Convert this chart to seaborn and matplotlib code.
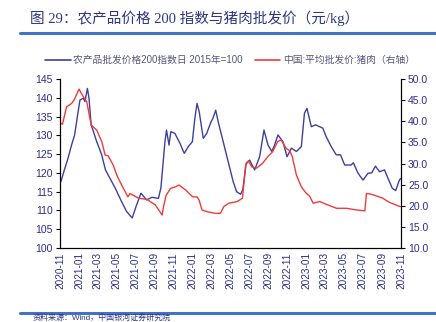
import matplotlib
matplotlib.use("Agg")
import matplotlib.pyplot as plt
import matplotlib.dates as mdates
from matplotlib.lines import Line2D
import pandas as pd
import seaborn as sns

# 农产品批发价格200指数（2015年=100）
index_dates = [
    "2020-11-04", "2020-11-15", "2020-11-25", "2020-12-08", "2020-12-18", "2020-12-25",
    "2021-01-04", "2021-01-15", "2021-01-20", "2021-01-28", "2021-02-02", "2021-02-09",
    "2021-02-27", "2021-03-15", "2021-03-27", "2021-04-05", "2021-04-27", "2021-05-18",
    "2021-06-03", "2021-06-21", "2021-07-03", "2021-07-19", "2021-08-06", "2021-08-23",
    "2021-09-13", "2021-09-21", "2021-10-04", "2021-10-09", "2021-10-17", "2021-10-23",
    "2021-11-05", "2021-11-21", "2021-12-05", "2021-12-18", "2021-12-31", "2022-01-08",
    "2022-01-15", "2022-01-22", "2022-02-04", "2022-02-15", "2022-03-01", "2022-03-07",
    "2022-03-16", "2022-03-24", "2022-04-09", "2022-04-25", "2022-05-11", "2022-05-22",
    "2022-06-04", "2022-06-11", "2022-06-22", "2022-07-03", "2022-07-19", "2022-08-04",
    "2022-08-18", "2022-08-31", "2022-09-12", "2022-09-21", "2022-10-02", "2022-10-18",
    "2022-10-31", "2022-11-14", "2022-11-30", "2022-12-16", "2022-12-26", "2023-01-03",
    "2023-01-17", "2023-01-31", "2023-02-23", "2023-03-06", "2023-03-22", "2023-04-07",
    "2023-04-21", "2023-05-04", "2023-05-25", "2023-06-01", "2023-06-16", "2023-07-02",
    "2023-07-18", "2023-07-30", "2023-08-11", "2023-08-24", "2023-09-09", "2023-09-20",
    "2023-10-04", "2023-10-15", "2023-10-25", "2023-10-30",
]
index_values = [
    117.7, 120.8, 123.4, 127.4, 130.1, 134.0,
    139.4, 139.9, 139.0, 142.5, 140.0, 132.8,
    128.3, 124.8, 120.8, 119.4, 116.0, 112.3,
    109.7, 108.0, 111.0, 114.6, 112.8, 113.5,
    113.2, 116.0, 128.3, 131.4, 127.4, 131.0,
    130.5, 127.9, 125.2, 127.0, 128.3, 134.5,
    138.5, 136.3, 129.2, 130.5, 133.6, 134.5,
    136.7, 133.6, 128.3, 123.0, 117.7, 115.0,
    114.3, 115.5, 122.6, 123.4, 120.8, 124.3,
    131.4, 127.4, 125.7, 127.4, 130.1, 128.3,
    124.3, 126.6, 125.7, 127.0, 135.9, 137.2,
    132.3, 132.8, 131.9, 129.6, 127.0, 124.8,
    124.8, 122.1, 122.1, 122.7, 119.9, 118.1,
    119.9, 120.0, 121.8, 120.3, 120.8, 118.6,
    115.9, 115.3, 117.7, 118.5,
]

# 中国:平均批发价:猪肉（元/kg，右轴）
pork_dates = [
    "2020-11-04", "2020-11-09", "2020-11-22", "2020-12-08", "2020-12-16", "2021-01-01",
    "2021-01-15", "2021-01-26", "2021-02-09", "2021-02-27", "2021-03-15", "2021-03-26",
    "2021-04-05", "2021-04-21", "2021-05-02", "2021-05-18", "2021-06-07", "2021-06-14",
    "2021-07-11", "2021-08-07", "2021-09-03", "2021-09-25", "2021-09-30", "2021-10-08",
    "2021-10-22", "2021-11-07", "2021-11-18", "2021-12-10", "2022-01-01", "2022-01-15",
    "2022-01-22", "2022-01-31", "2022-02-16", "2022-03-15", "2022-03-31", "2022-04-11",
    "2022-04-27", "2022-05-24", "2022-06-10", "2022-06-20", "2022-06-29", "2022-07-10",
    "2022-07-25", "2022-08-13", "2022-08-30", "2022-09-15", "2022-10-01", "2022-10-12",
    "2022-10-28", "2022-11-09", "2022-11-17", "2022-11-30", "2022-12-16", "2022-12-30",
    "2023-01-12", "2023-01-23", "2023-02-13", "2023-03-07", "2023-04-08", "2023-05-10",
    "2023-06-11", "2023-07-08", "2023-07-13", "2023-07-24", "2023-08-07", "2023-09-03",
    "2023-09-25", "2023-10-22", "2023-10-30",
]
pork_values = [
    39.5, 39.3, 43.4, 44.2, 45.0, 47.6,
    45.8, 44.6, 39.1, 37.9, 35.2, 32.0,
    31.8, 29.6, 27.3, 24.9, 22.1, 22.9,
    21.8, 21.5, 20.2, 17.8, 20.0, 22.5,
    24.1, 24.5, 24.9, 23.7, 22.1, 22.1,
    21.3, 19.0, 18.6, 18.2, 18.2, 19.8,
    20.6, 21.0, 21.8, 29.6, 30.6, 29.2,
    28.9, 30.0, 31.6, 32.8, 35.2, 35.6,
    33.6, 33.0, 31.6, 27.3, 24.5, 23.1,
    22.2, 20.6, 21.0, 20.3, 19.4, 19.4,
    19.0, 18.8, 22.9, 22.8, 22.5, 21.8,
    20.8, 20.0, 19.8,
]

left_ticks = [100, 105, 110, 115, 120, 125, 130, 135, 140, 145]
right_ticks = [10.0, 15.0, 20.0, 25.0, 30.0, 35.0, 40.0, 45.0, 50.0]

index_label = "农产品批发价格200指数日 2015年=100"
pork_label = "中国:平均批发价:猪肉（右轴）"
title_text = "图 29：农产品价格 200 指数与猪肉批发价（元/kg）"
source_text = "资料来源：Wind，中国银河证券研究院"

BLUE = "#3F3F9E"
RED = "#F23A3A"
TICK_COLOR = "#2B2E8C"
RULE_COLOR = "#4472C4"

sns.set_style("white")
plt.rcParams["font.family"] = ["Liberation Sans", "Noto Sans CJK SC", "DejaVu Sans"]

idx_df = pd.DataFrame({"date": pd.to_datetime(index_dates), "value": index_values})
pork_df = pd.DataFrame({"date": pd.to_datetime(pork_dates), "value": pork_values})

fig = plt.figure(figsize=(4.36, 3.22), dpi=100)
ax = fig.add_axes([60 / 436, 1 - 248 / 322, (401 - 60) / 436, (248 - 79) / 322])
ax2 = ax.twinx()

sns.lineplot(data=idx_df, x="date", y="value", ax=ax, color=BLUE, linewidth=1.0)
sns.lineplot(data=pork_df, x="date", y="value", ax=ax2, color=RED, linewidth=1.0)

ax.set_xlim(pd.Timestamp("2020-11-01"), pd.Timestamp("2023-11-01"))
ax.set_ylim(100, 145)
ax2.set_ylim(10, 50)
ax.set_yticks(left_ticks)
ax.set_yticklabels([str(v) for v in left_ticks])
ax2.set_yticks(right_ticks)
ax2.set_yticklabels([f"{v:.1f}" for v in right_ticks])

ax.xaxis.set_major_locator(mdates.MonthLocator(bymonth=[1, 3, 5, 7, 9, 11]))
ax.xaxis.set_major_formatter(mdates.DateFormatter("%Y-%m"))
for lab in ax.get_xticklabels():
    lab.set_rotation(90)

ax.set_xlabel("")
ax.set_ylabel("")
ax2.set_xlabel("")
ax2.set_ylabel("")

for a in (ax, ax2):
    for side in ("left", "right", "bottom"):
        a.spines[side].set_visible(True)
        a.spines[side].set_color("black")
        a.spines[side].set_linewidth(0.8)
    a.spines["top"].set_visible(False)

ax.tick_params(axis="x", direction="in", length=3, width=0.8, labelsize=7.2,
               labelcolor=TICK_COLOR, pad=3, color="black")
ax.tick_params(axis="y", direction="out", length=3, width=0.8, labelsize=7.5,
               labelcolor=TICK_COLOR, pad=2, color="black", left=True)
ax2.tick_params(axis="y", direction="out", length=3, width=0.8, labelsize=7.5,
                labelcolor=TICK_COLOR, pad=2, color="black", right=True)

handles = [Line2D([], [], color=BLUE, linewidth=1.2),
           Line2D([], [], color=RED, linewidth=1.2)]
fig.legend(handles, [index_label, pork_label], loc="center",
           bbox_to_anchor=(230 / 436, 1 - 60 / 322), ncol=2, frameon=False,
           fontsize=7, handlelength=2.6, handletextpad=0.3, columnspacing=1.2,
           labelcolor="#55557A")

fig.text(30 / 436, 1 - 18 / 322, title_text, fontsize=10.5, color="#2E3584",
         fontweight="medium", va="center", ha="left",
         family=["Liberation Serif", "Noto Sans CJK SC"])
fig.add_artist(Line2D([20 / 436, 1.0], [1 - 33 / 322, 1 - 33 / 322],
                      transform=fig.transFigure, color=RULE_COLOR, linewidth=2.2))
fig.add_artist(Line2D([20 / 436, 1.0], [1 - 313 / 322, 1 - 313 / 322],
                      transform=fig.transFigure, color=RULE_COLOR, linewidth=2.2))
fig.text(33 / 436, 1 - 321.5 / 322, source_text, fontsize=5.8, color="#2E3584",
         va="bottom", ha="left")

fig.savefig("out.png", dpi=100)
